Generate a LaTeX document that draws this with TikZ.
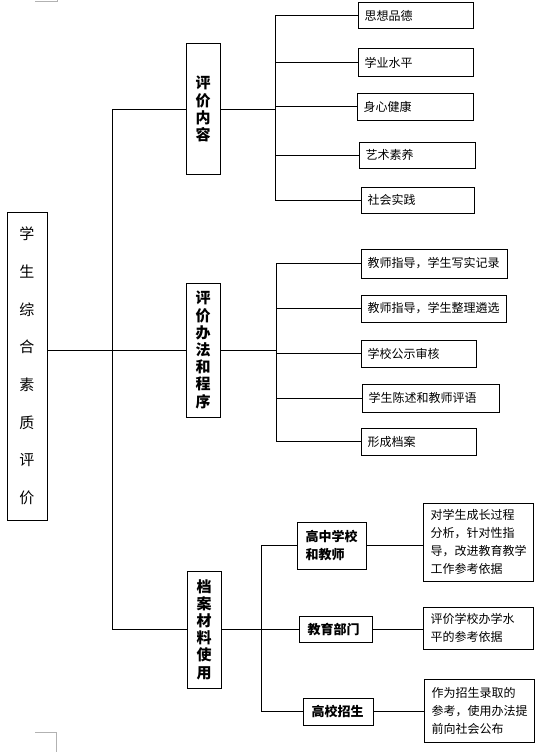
\documentclass[tikz,border=0pt]{standalone}
\usepackage{fontspec}
\setmainfont{Noto Sans CJK SC}
\tikzset{
    box/.style={draw, line width=1pt, inner sep=0pt},
    mainbox/.style={box, minimum width=40pt, minimum height=308pt, align=center, font=\fontsize{15}{37.7}\selectfont},
    catbox/.style={box, minimum width=34pt, align=center, font=\bfseries\fontsize{15}{17.2}\selectfont},
    itembox/.style={box, anchor=west, minimum height=27pt, inner xsep=6pt, text width=#1, align=left, font=\fontsize{12}{14}\selectfont},
    orgbox/.style={box, anchor=west, inner xsep=8pt, text width=#1, align=left, font=\bfseries\fontsize{13}{18}\selectfont},
    notebox/.style={box, anchor=west, inner xsep=7pt, text width=96pt, align=left, font=\fontsize{12}{18}\selectfont},
}
\begin{document}
\begin{tikzpicture}[x=1pt, y=-1pt, line width=1pt]
    \useasboundingbox (0,0) rectangle (545,752);
        \draw[gray!60, line width=0.6pt] (35,1) -- (57,1) -- (57,0);
        \draw[gray!60, line width=0.6pt] (35,732) -- (56,732) -- (56,752);
    \node[mainbox] (main) at (27,366){学\\生\\综\\合\\素\\质\\评\\价};
    \coordinate (trunk) at (112,0);
    \node[catbox, minimum height=130pt] (nr) at (203,109){评\\价\\内\\容};
    \node[catbox, minimum height=134pt] (bf) at (203,350){评\\价\\办\\法\\和\\程\\序};
    \node[catbox, minimum height=117pt] (sy) at (204,629.5){档\\案\\材\\料\\使\\用};
        \draw (main.east |- bf.west) -- (bf.west);
        \draw (nr.west) -- (trunk |- nr.west) -- (trunk |- sy.west) -- (sy.west);
    % evaluation content
    \coordinate (nrv) at (275,0);
        \node[itembox=103pt, minimum height=26pt] (nr1) at (358,16){思想品德};
        \node[itembox=103pt] (nr2) at (358,62.5){学业水平};
        \node[itembox=104pt] (nr3) at (357,106.5){身心健康};
        \node[itembox=104pt, minimum height=26pt] (nr4) at (359,155){艺术素养};
        \node[itembox=101pt, minimum height=26pt] (nr5) at (361,200){社会实践};
        \draw (nr.east) -- (nrv |- nr.east);
        \draw (nrv |- nr1.west) -- (nrv |- nr5.west);
        \draw (nrv |- nr1.west) -- (nr1.west);
        \draw (nrv |- nr2.west) -- (nr2.west);
        \draw (nrv |- nr3.west) -- (nr3.west);
        \draw (nrv |- nr4.west) -- (nr4.west);
        \draw (nrv |- nr5.west) -- (nr5.west);
    % methods and procedure
    \coordinate (bfv) at (276,0);
        \node[itembox=134pt, minimum height=29pt] (bf1) at (361,263.5){教师指导，学生写实记录};
        \node[itembox=133pt] (bf2) at (361,308.5){教师指导，学生整理遴选};
        \node[itembox=103pt] (bf3) at (361,353.5){学校公示审核};
        \node[itembox=125pt, minimum height=28pt] (bf4) at (362,398){学生陈述和教师评语};
        \node[itembox=103pt] (bf5) at (361,441.5){形成档案};
        \draw (bf.east) -- (bfv |- bf.east);
        \draw (bfv |- bf1.west) -- (bfv |- bf5.west);
        \draw (bfv |- bf1.west) -- (bf1.west);
        \draw (bfv |- bf2.west) -- (bf2.west);
        \draw (bfv |- bf3.west) -- (bf3.west);
        \draw (bfv |- bf4.west) -- (bf4.west);
        \draw (bfv |- bf5.west) -- (bf5.west);
    % use of the files
    \coordinate (syv) at (261,0);
        \node[orgbox=53pt, minimum height=47pt] (sy1) at (297,545.5){高中学校\\和教师};
        \node[orgbox=57pt, minimum height=26pt] (sy2) at (299,629){教育部门};
        \node[orgbox=54pt, minimum height=27pt] (sy3) at (303,711.5){高校招生};
        \draw (sy.east) -- (syv |- sy.east);
        \draw (syv |- sy1.west) -- (syv |- sy3.west);
        \draw (syv |- sy1.west) -- (sy1.west);
        \draw (syv |- sy2.west) -- (sy2.west);
        \draw (syv |- sy3.west) -- (sy3.west);
        \node[notebox, minimum height=78pt] (yt1) at (423,542){对学生成长过程\\分析，针对性指\\导，改进教育教学\\工作参考依据};
        \node[notebox, minimum height=42pt] (yt2) at (423,628){评价学校办学水\\平的参考依据};
        \node[notebox, minimum height=63pt] (yt3) at (424,710.5){作为招生录取的\\参考，使用办法提\\前向社会公布};
        \draw (sy1.east) -- (sy1.east -| yt1.west);
        \draw (sy2.east) -- (sy2.east -| yt2.west);
        \draw (sy3.east) -- (sy3.east -| yt3.west);
\end{tikzpicture}
\end{document}
